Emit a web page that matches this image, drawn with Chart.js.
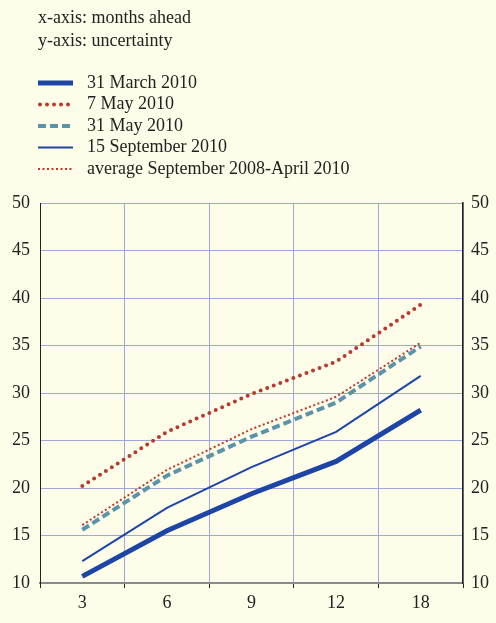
<!DOCTYPE html>
<html>
<head>
<meta charset="utf-8">
<script src="https://cdn.jsdelivr.net/npm/chart.js@4"></script>
<style>
  html, body { margin: 0; padding: 0; background: #fefde9; }
  #wrap { width: 496px; height: 623px; }
</style>
</head>
<body>
<div id="wrap"><canvas id="chartLines" width="496" height="623"></canvas></div>
<script>
let months = ['3', '6', '9', '12', '18'];
let headerLines = ['x-axis: months ahead', 'y-axis: uncertainty'];
let seriesNames = ['31 March 2010', '7 May 2010', '31 May 2010', '15 September 2010', 'average September 2008-April 2010'];
let march31 = [10.7, 15.5, 19.4, 22.8, 28.2];
let may7 = [20.2, 25.9, 29.9, 33.3, 39.3];
let may31 = [15.6, 21.3, 25.4, 29.0, 34.9];
let sep15 = [12.3, 17.9, 22.2, 25.9, 31.8];
let average = [16.1, 21.9, 26.2, 29.6, 35.3];
let yTicks = [10, 15, 20, 25, 30, 35, 40, 45, 50];

let font = { family: '"Liberation Serif", "Times New Roman", serif', size: 18 };
let textColor = '#222';
let gridColor = '#a0a6dc';

// legend + header drawn in the top padding, styles taken from the datasets
let headerLegend = {
  id: 'headerLegend',
  afterDraw(chart) {
    let ctx = chart.ctx;
    ctx.save();
    ctx.font = font.size + 'px ' + font.family;
    ctx.fillStyle = textColor;
    ctx.textBaseline = 'middle';
    ctx.textAlign = 'left';
    ctx.fillText(headerLines[0], 38, 18);
    ctx.fillText(headerLines[1], 38, 41);
    chart.data.datasets.forEach((ds, i) => {
      let y = 83 + i * 21.5;
      ctx.save();
      ctx.strokeStyle = ds.borderColor;
      ctx.lineWidth = ds.borderWidth;
      ctx.lineCap = ds.borderCapStyle || 'butt';
      ctx.setLineDash(ds.borderDash || []);
      ctx.beginPath();
      ctx.moveTo(ds.borderCapStyle === 'round' ? 40 : 38, y);
      ctx.lineTo(73, y);
      ctx.stroke();
      ctx.restore();
      ctx.fillText(ds.label, 87, y);
    });
    ctx.restore();
  }
};

let chartLines = new Chart(document.getElementById('chartLines').getContext('2d'), {
  type: 'line',
  data: {
    labels: months,
    datasets: [
      { label: seriesNames[0], data: march31, borderColor: '#1d45a6', borderWidth: 5 },
      { label: seriesNames[1], data: may7, borderColor: '#b73a2e', borderWidth: 4, borderDash: [0, 7], borderCapStyle: 'round' },
      { label: seriesNames[2], data: may31, borderColor: '#5b93a8', borderWidth: 4, borderDash: [8, 4] },
      { label: seriesNames[3], data: sep15, borderColor: '#1d45a6', borderWidth: 2 },
      { label: seriesNames[4], data: average, borderColor: '#c0392b', borderWidth: 2, borderDash: [2, 2.5] }
    ]
  },
  options: {
    responsive: false,
    animation: false,
    layout: { padding: { top: 203, left: 0, right: 0, bottom: 0 } },
    elements: { point: { radius: 0 }, line: { tension: 0, fill: false } },
    plugins: { legend: { display: false }, tooltip: { enabled: false } },
    scales: {
      x: {
        type: 'category',
        offset: true,
        grid: { offset: true, color: gridColor, lineWidth: 1, tickLength: 5, tickColor: '#222' },
        border: { color: '#8a8a8a', width: 2 },
        ticks: { font: font, color: textColor, padding: 4, maxRotation: 0 },
        afterFit(scale) { scale.height = 40; }
      },
      y: {
        position: 'left',
        min: 10, max: 50,
        afterBuildTicks(scale) { scale.ticks = yTicks.map(v => ({ value: v })); },
        grid: { color: gridColor, lineWidth: 1, drawTicks: false },
        border: { color: '#222', width: 1 },
        ticks: { font: font, color: textColor, padding: 10 },
        afterFit(scale) { scale.width = 40; }
      },
      y2: {
        position: 'right',
        min: 10, max: 50,
        afterBuildTicks(scale) { scale.ticks = yTicks.map(v => ({ value: v })); },
        grid: { display: false, drawTicks: false },
        border: { color: '#222', width: 1.5 },
        ticks: { font: font, color: textColor, padding: 8 },
        afterFit(scale) { scale.width = 33; }
      }
    }
  },
  plugins: [headerLegend]
});
</script>
</body>
</html>
